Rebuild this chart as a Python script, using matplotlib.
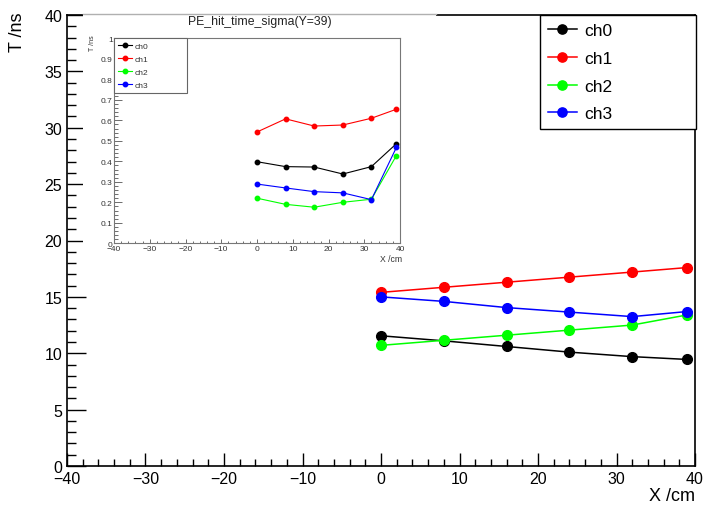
import matplotlib
matplotlib.use('Agg')
import matplotlib.pyplot as plt
from matplotlib.patches import Rectangle
from matplotlib.lines import Line2D
from matplotlib.ticker import MultipleLocator, FuncFormatter

plt.rcParams['font.family'] = ['Liberation Sans', 'DejaVu Sans']
plt.rcParams['axes.unicode_minus'] = True

# Scan positions along X (cm)
x_cm = [0, 8, 16, 24, 32, 39]

channels = ['ch0', 'ch1', 'ch2', 'ch3']
colors = ['#000000', '#ff0000', '#00ff00', '#0000ff']

# Mean hit time per channel (ns)
ch0_mean = [11.55, 11.10, 10.60, 10.10, 9.70, 9.45]
ch1_mean = [15.40, 15.85, 16.30, 16.75, 17.20, 17.60]
ch2_mean = [10.70, 11.15, 11.60, 12.05, 12.50, 13.40]
ch3_mean = [15.00, 14.60, 14.05, 13.65, 13.25, 13.70]

# Hit time sigma per channel (ns)
ch0_sigma = [0.398, 0.374, 0.372, 0.338, 0.374, 0.486]
ch1_sigma = [0.543, 0.607, 0.572, 0.577, 0.610, 0.654]
ch2_sigma = [0.220, 0.190, 0.176, 0.200, 0.215, 0.428]
ch3_sigma = [0.289, 0.270, 0.252, 0.246, 0.213, 0.468]

means = [ch0_mean, ch1_mean, ch2_mean, ch3_mean]
sigmas = [ch0_sigma, ch1_sigma, ch2_sigma, ch3_sigma]

inset_title = 'PE_hit_time_sigma(Y=39)'

W, H = 705, 510
fig = plt.figure(figsize=(W / 100, H / 100), dpi=100)


def fx(px):
    return px / W


def fy(py):
    return 1 - py / H


# ---- main pad ----
ax = fig.add_axes([fx(67), fy(467), (695 - 67) / W, (467 - 16) / H], zorder=0)
for name, col, ys in zip(channels, colors, means):
    ax.plot(x_cm, ys, color=col, lw=1.1, marker='o', ms=7, label=name)

ax.set_xlim(-40, 40)
ax.set_ylim(0, 40)
ax.xaxis.set_major_locator(MultipleLocator(10))
ax.xaxis.set_minor_locator(MultipleLocator(2))
ax.yaxis.set_major_locator(MultipleLocator(5))
ax.yaxis.set_minor_locator(MultipleLocator(1))
ax.tick_params(which='both', direction='in', top=False, right=False,
               labelsize=11.5, width=1)
ax.tick_params(axis='x', which='major', length=9.7, pad=3.5)
ax.tick_params(axis='x', which='minor', length=4.9)
ax.tick_params(axis='y', which='major', length=13.6, pad=3.5)
ax.tick_params(axis='y', which='minor', length=6.8)
for s in ax.spines.values():
    s.set_linewidth(1.2)

leg = ax.legend(loc='upper left',
                bbox_to_anchor=(fx(540), fy(129), (696 - 540) / W, (129 - 16) / H),
                bbox_transform=fig.transFigure, mode='expand',
                fontsize=12.5, handlelength=1.65, handletextpad=0.45,
                labelspacing=0.72, borderpad=0.47, borderaxespad=0,
                fancybox=False, edgecolor='black', framealpha=1,
                markerscale=0.95)
leg.get_frame().set_linewidth(1.0)

fig.text(fx(18), fy(12), 'T /ns', rotation=90, ha='center', va='top', fontsize=13)
fig.text(fx(695), fy(497), 'X /cm', ha='right', va='center', fontsize=13)

# ---- inset pad ----
fig.add_artist(Rectangle((fx(83), fy(265)), (436 - 83) / W, (265 - 14) / H,
                         transform=fig.transFigure, facecolor='white',
                         edgecolor='none', zorder=1))
fig.add_artist(Line2D([fx(83), fx(436)], [fy(15), fy(15)], color='#b0b0b0',
                      lw=1, transform=fig.transFigure, zorder=1.1))

ax2 = fig.add_axes([fx(114), fy(244.3), (400 - 114) / W, (244.3 - 39.3) / H],
                   zorder=2)
for name, col, ys in zip(channels, colors, sigmas):
    ax2.plot(x_cm, ys, color=col, lw=0.8, marker='o', ms=3.2, label=name)

ax2.set_xlim(-40, 40)
ax2.set_ylim(0, 1)
ax2.xaxis.set_major_locator(MultipleLocator(10))
ax2.xaxis.set_minor_locator(MultipleLocator(2))
ax2.yaxis.set_major_locator(MultipleLocator(0.1))
ax2.yaxis.set_minor_locator(MultipleLocator(0.02))
ax2.yaxis.set_major_formatter(FuncFormatter(lambda v, _: f'{v:g}'))
ax2.tick_params(which='both', direction='in', top=False, right=False,
                labelsize=6, colors='#555555', labelcolor='#333333', width=0.6)
ax2.tick_params(axis='x', which='major', length=3.1, pad=1.5)
ax2.tick_params(axis='x', which='minor', length=1.6)
ax2.tick_params(axis='y', which='major', length=6, pad=1)
ax2.tick_params(axis='y', which='minor', length=3)
for s in ax2.spines.values():
    s.set_linewidth(0.8)
    s.set_color('#777777')

leg2 = ax2.legend(loc='upper left',
                  bbox_to_anchor=(fx(114), fy(91), (187 - 114) / W, (91 - 39.3) / H),
                  bbox_transform=fig.transFigure, mode='expand',
                  fontsize=6, handlelength=1.7, handletextpad=0.3,
                  labelspacing=0.64, borderpad=0.45, borderaxespad=0,
                  fancybox=False, edgecolor='#666666', framealpha=1)
leg2.get_frame().set_linewidth(0.8)
for t in leg2.get_texts():
    t.set_color('#333333')

fig.text(fx(260), fy(22.5), inset_title, ha='center', va='center',
         fontsize=8.8, color='#222222', zorder=3)
fig.text(fx(402), fy(259.5), 'X /cm', ha='right', va='center',
         fontsize=6.2, color='#333333', zorder=3)
fig.text(fx(92), fy(35), 'T /ns', rotation=90, ha='center', va='top',
         fontsize=5, color='#333333', zorder=3)

fig.savefig('out.png', dpi=100)
